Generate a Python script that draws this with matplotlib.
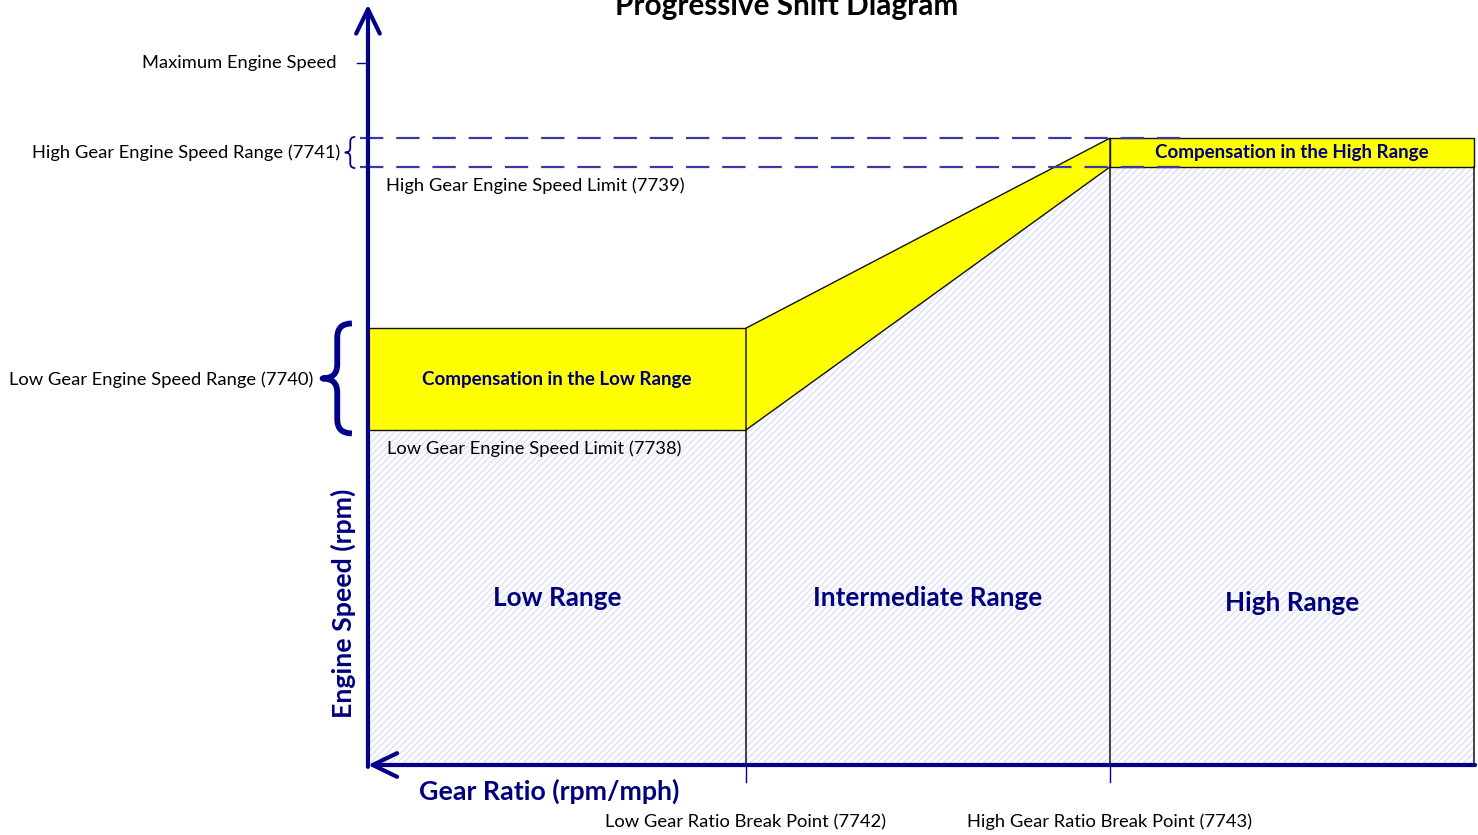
import matplotlib
matplotlib.use("Agg")
import matplotlib.pyplot as plt
from matplotlib.patches import Polygon, PathPatch
from matplotlib.path import Path

plt.rcParams['font.family'] = ['Lato', 'DejaVu Sans']
plt.rcParams['hatch.linewidth'] = 0.7

# ---- diagram values (gear ratio axis 0..100, engine speed in rpm) ----
gear_breaks = [34.15, 67.03]          # low / high gear ratio break points (7742, 7743)
gear_end = 99.9                       # right edge of the high range
axis_x_end = 100.0
speed_limits = [1432, 2556]           # low / high gear engine speed limit (7738, 7739)
speed_ranges = [435, 123]             # width of low / high speed range (7740, 7741)
max_speed = 3000                      # maximum engine speed
axis_y_end = 3250

range_names = ['Low Range', 'Intermediate Range', 'High Range']
comp_names = ['Compensation in the Low Range', 'Compensation in the High Range']

NAVY = '#00007f'
AXIS = '#000088'
DASH = '#3a3aa6'
YELLOW = '#ffff00'
HATCH = '#d6daf3'

lo_x, hi_x = gear_breaks
lo_lim, hi_lim = speed_limits
lo_top = lo_lim + speed_ranges[0]
hi_top = hi_lim + speed_ranges[1]

fig = plt.figure(figsize=(14.78, 8.35), dpi=100)
ax = fig.add_axes([0, 0, 1, 1])
ax.set_xlim(-33.24, 100.27)
ax.set_ylim(-299.1, 3269.2)
ax.axis('off')

# hatched operating area under the shift line
area = Polygon([(0, 0), (0, lo_lim), (lo_x, lo_lim), (hi_x, hi_lim),
                (gear_end, hi_lim), (gear_end, 0)], closed=True,
               facecolor='#fbfbfe', edgecolor=HATCH, hatch='/////', lw=0, zorder=1)
ax.add_patch(area)

# compensation bands
for pts in [
    [(0, lo_lim), (lo_x, lo_lim), (lo_x, lo_top), (0, lo_top)],
    [(lo_x, lo_lim), (hi_x, hi_lim), (hi_x, hi_top), (lo_x, lo_top)],
    [(hi_x, hi_lim), (gear_end, hi_lim), (gear_end, hi_top), (hi_x, hi_top)],
]:
    ax.add_patch(Polygon(pts, closed=True, facecolor=YELLOW, edgecolor='#111111',
                         lw=1.0, zorder=3))

# range boundaries
ax.plot([lo_x, lo_x], [0, lo_lim], color='#111111', lw=1.1, zorder=3)
ax.plot([hi_x, hi_x], [0, hi_lim], color='#111111', lw=1.1, zorder=3)
ax.plot([gear_end, gear_end], [0, hi_lim], color='#111111', lw=1.1, zorder=3)

# dashed high gear speed range guides
for yv in [hi_lim, hi_top]:
    ax.plot([-0.7, 73.7], [yv, yv], color=DASH, lw=1.6,
            linestyle=(0, (10.5, 5.8)), zorder=5)

# ticks
ax.plot([-1.0, 0], [max_speed, max_speed], color=AXIS, lw=1.0, zorder=4)
for xv in gear_breaks:
    ax.plot([xv, xv], [0, -72], color=AXIS, lw=1.0, zorder=4)

# axes with open arrow heads
ax.annotate('', xy=(0, axis_y_end), xytext=(0, -8),
            arrowprops=dict(arrowstyle='->,head_length=1.75,head_width=0.85',
                            lw=3.0, color=AXIS, shrinkA=0, shrinkB=0), zorder=6)
ax.annotate('', xy=(0, 0), xytext=(axis_x_end, 0),
            arrowprops=dict(arrowstyle='->,head_length=1.75,head_width=0.85',
                            lw=3.0, color=AXIS, shrinkA=0, shrinkB=0), zorder=6)


def brace(x_tip, x_end, y0, y1, dy, lw):
    xm = (x_tip + x_end) / 2
    ym = (y0 + y1) / 2
    verts = [(x_end, y1), (xm, y1), (xm, y1 - dy), (xm, ym + dy),
             (xm, ym), (x_tip, ym), (xm, ym), (xm, ym - dy),
             (xm, y0 + dy), (xm, y0), (x_end, y0)]
    codes = [Path.MOVETO, Path.CURVE3, Path.CURVE3, Path.LINETO,
             Path.CURVE3, Path.CURVE3, Path.CURVE3, Path.CURVE3,
             Path.LINETO, Path.CURVE3, Path.CURVE3]
    ax.add_patch(PathPatch(Path(verts, codes), facecolor='none', edgecolor=AXIS,
                           lw=lw, capstyle='butt', joinstyle='round', zorder=6))


brace(-4.1, -1.45, lo_lim - 15, lo_top + 20, 60, 4.2)
brace(-2.05, -1.15, hi_lim - 5, hi_top + 5, 20, 1.3)

# labels
fs = 13.2
ax.text(-2.8, max_speed, 'Maximum Engine Speed', ha='right', va='center', fontsize=fs)
ax.text(-2.5, (hi_lim + hi_top) / 2, 'High Gear Engine Speed Range (7741)',
        ha='right', va='center', fontsize=fs)
ax.text(1.6, hi_lim - 80, 'High Gear Engine Speed Limit (7739)',
        ha='left', va='center', fontsize=fs)
ax.text(-4.9, (lo_lim + lo_top) / 2 - 5, 'Low Gear Engine Speed Range (7740)',
        ha='right', va='center', fontsize=fs)
ax.text(1.7, lo_lim - 80, 'Low Gear Engine Speed Limit (7738)',
        ha='left', va='center', fontsize=fs)

cfs = 13.5
ax.text(lo_x / 2, (lo_lim + lo_top) / 2, comp_names[0], ha='center', va='center',
        fontsize=cfs, fontweight='bold', color=NAVY, zorder=7)
ax.text((hi_x + gear_end) / 2, (hi_lim + hi_top) / 2, comp_names[1], ha='center',
        va='center', fontsize=cfs, fontweight='bold', color=NAVY, zorder=7)

big = 18.8
ax.text(lo_x / 2, 715, range_names[0], ha='center', va='center', fontsize=big,
        fontweight='bold', color=NAVY, zorder=7)
ax.text((lo_x + hi_x) / 2, 715, range_names[1], ha='center', va='center', fontsize=big,
        fontweight='bold', color=NAVY, zorder=7)
ax.text((hi_x + gear_end) / 2, 694, range_names[2], ha='center', va='center', fontsize=big,
        fontweight='bold', color=NAVY, zorder=7)

ax.text(-2.25, 690, 'Engine Speed (rpm)', ha='center', va='center', rotation=90,
        fontsize=19.3, fontweight='bold', color=NAVY)
ax.text(16.35, -112, 'Gear Ratio (rpm/mph)', ha='center', va='center',
        fontsize=19.3, fontweight='bold', color=NAVY)
ax.text(lo_x, -244, 'Low Gear Ratio Break Point (7742)', ha='center', va='center',
        fontsize=fs)
ax.text(hi_x, -244, 'High Gear Ratio Break Point (7743)', ha='center', va='center',
        fontsize=fs)

ax.text(37.86, 3205, 'Progressive Shift Diagram', ha='center', va='baseline',
        fontsize=21.4, fontweight='bold')

fig.savefig('out.png', dpi=100)
